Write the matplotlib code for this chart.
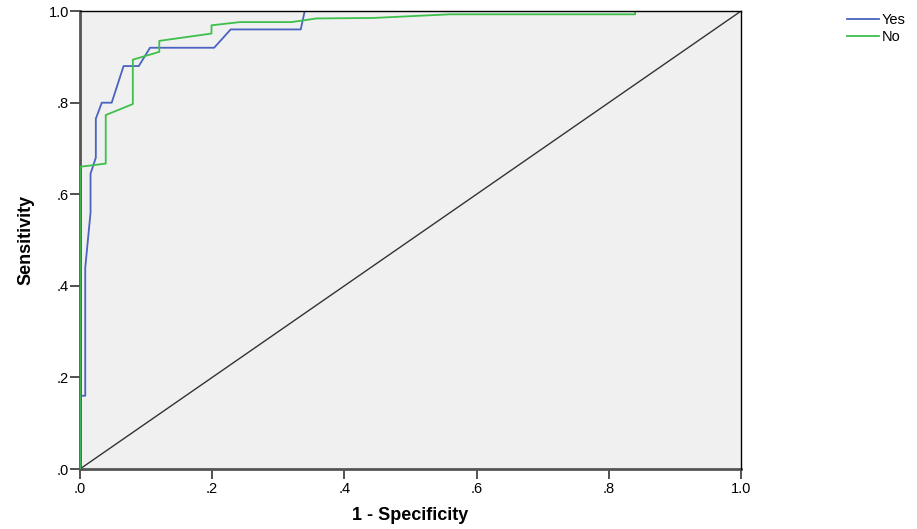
import matplotlib
matplotlib.use("Agg")
from matplotlib import pyplot as plt

# ROC curve points
yes_fpr = [0.0, 0.0, 0.008, 0.008, 0.016, 0.016, 0.024, 0.024, 0.033, 0.048,
           0.066, 0.089, 0.106, 0.203, 0.228, 0.334, 0.340, 1.0]
yes_tpr = [0.0, 0.16, 0.16, 0.44, 0.56, 0.645, 0.68, 0.765, 0.80, 0.80,
           0.88, 0.88, 0.92, 0.92, 0.96, 0.96, 1.0, 1.0]

no_fpr = [0.0, 0.0, 0.039, 0.039, 0.080, 0.080, 0.120, 0.120, 0.199, 0.199,
          0.242, 0.320, 0.358, 0.443, 0.560, 0.840, 0.840, 1.0]
no_tpr = [0.0, 0.66, 0.667, 0.773, 0.797, 0.894, 0.911, 0.935, 0.951, 0.969,
          0.976, 0.976, 0.984, 0.985, 0.993, 0.993, 1.0, 1.0]

ticks = [0.0, 0.2, 0.4, 0.6, 0.8, 1.0]
tick_labels = ['.0', '.2', '.4', '.6', '.8', '1.0']

plt.rcParams['font.family'] = ['Liberation Sans', 'DejaVu Sans']

fig = plt.figure(figsize=(9.17, 5.29), dpi=100)
ax = fig.add_axes([0.0872, 0.1134, 0.7208, 0.8656])
ax.set_facecolor('#f0f0f0')

ax.plot([0, 1], [0, 1], color='#333333', lw=1.0, zorder=2)
ax.plot(yes_fpr, yes_tpr, color='#4a62c0', lw=1.3, label='Yes', zorder=3)
ax.plot(no_fpr, no_tpr, color='#3cc04a', lw=1.3, label='No', zorder=3)

ax.set_xlim(0, 1)
ax.set_ylim(0, 1)
ax.set_xticks(ticks)
ax.set_xticklabels(tick_labels)
ax.set_yticks(ticks)
ax.set_yticklabels(tick_labels)
ax.tick_params(direction='out', length=7, width=1.2, labelsize=10.5, color='#333333')
ax.tick_params(axis='x', pad=2)
ax.tick_params(axis='y', pad=1)

for s in ['top', 'right']:
    ax.spines[s].set_color('black')
    ax.spines[s].set_linewidth(1.0)
    ax.spines[s].set_zorder(4)
for s in ['left', 'bottom']:
    ax.spines[s].set_color('#555555')
    ax.spines[s].set_linewidth(2.0)

ax.set_xlabel('1 - Specificity', fontsize=13, fontweight='bold',
              family=['Liberation Sans Narrow', 'Liberation Sans'], labelpad=8)
ax.set_ylabel('Sensitivity', fontsize=13, fontweight='bold',
              family=['Liberation Sans Narrow', 'Liberation Sans'], labelpad=10)

ax.legend(loc='upper left', bbox_to_anchor=(1.14, 1.025), frameon=False,
          fontsize=10.5, handlelength=2.2, handletextpad=0.2, labelspacing=0.25)

fig.savefig('out.png', dpi=100)
